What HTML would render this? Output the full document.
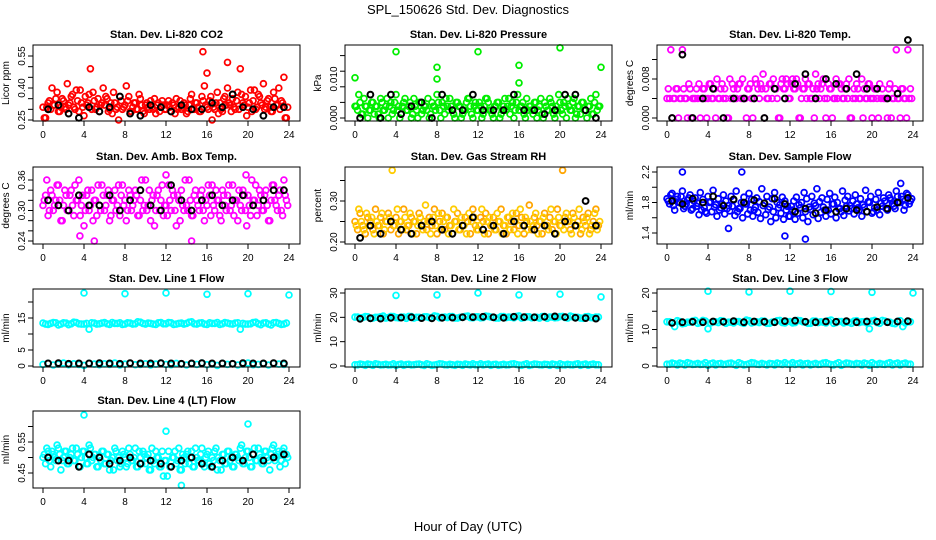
<!DOCTYPE html>
<html><head><meta charset="utf-8"><style>
body{margin:0;background:#fff}
svg{display:block;font-family:"Liberation Sans",sans-serif}
</style></head><body>
<svg id="c" width="936" height="540" viewBox="0 0 936 540">
<text x="468" y="14" text-anchor="middle" font-size="13">SPL_150626  Std. Dev. Diagnostics</text>
<text x="468" y="531" text-anchor="middle" font-size="13">Hour of Day (UTC)</text>
</svg>
<script>
const hoursTick=[0,4,8,12,16,20,24];
const outHours=[4,8,12,16,20,24];
const co2=[0.31,0.26,0.33,0.30,0.32,0.35,0.29,0.31,0.34,0.30,0.32,0.36,0.31,0.39,0.29,0.33,0.27,0.32,0.37,0.30,0.34,0.31,0.29,0.33,0.32,0.35,0.30,0.28,0.33,0.31,0.36,0.30,0.32,0.34,0.29,0.31,0.33,0.30,0.35,0.29,0.32,0.31,0.34,0.30,0.28,0.33,0.31,0.32,0.30,0.34,0.29,0.32,0.35,0.31,0.30,0.33,0.28,0.32,0.37,0.30,0.33,0.29,0.36,0.41,0.31,0.34,0.25,0.30,0.38,0.33,0.29,0.36,0.40,0.32,0.35,0.30,0.38,0.49,0.33,0.36,0.31,0.39,0.34,0.30,0.37,0.33,0.42,0.31,0.35,0.29,0.38,0.32,0.40,0.34,0.31,0.26];
const co2Out=[0.57,0.47,0.52,0.45];
const co2OutHours=[15.6,16,18,23.5];
const co2Black=[0.30,0.32,0.28,0.26,0.31,0.29,0.31,0.36,0.28,0.27,0.32,0.31,0.29,0.32,0.30,0.30,0.33,0.31,0.37,0.31,0.30,0.27,0.31,0.31];
const pres=[0.003,0.002,0.004,0.001,0.003,0.000,0.002,0.004,0.003,0.001,0.005,0.002,0.003,0.000,0.004,0.002,0.006,0.003,0.001,0.004,0.002,0.003,0.000,0.005,0.002,0.004,0.001,0.003,0.002,0.000,0.004,0.003,0.006,0.002,0.004,0.001,0.003,0.005,0.002,0.000,0.004,0.003,0.001,0.002,0.005,0.003,0.000,0.004,0.002,0.003,0.001,0.005,0.004,0.002,0.000,0.003,0.004,0.001,0.003,0.002,0.005,0.003,0.000,0.004,0.002,0.003,0.001,0.005,0.003,0.002,0.004,0.000,0.003,0.001,0.004,0.002,0.005,0.003,0.000,0.002,0.004,0.001,0.003,0.005,0.002,0.004,0.000,0.003,0.001,0.004,0.002,0.003,0.005,0.001,0.006,0.003];
const presOut=[0.0103,0.017,0.013,0.010,0.017,0.0135,0.009,0.018,0.013];
const presOutHours=[0,4,8,8,12,16,16,20,24];
const presBlack=[0.000,0.006,0.000,0.006,0.001,0.003,0.004,0.000,0.006,0.002,0.002,0.006,0.002,0.002,0.002,0.006,0.002,0.002,0.001,0.002,0.006,0.006,0.002,0.000];
const temp=[0.004,0.004,0.000,0.004,0.006,0.004,0.014,0.004,0.000,0.006,0.004,0.004,0.004,0.000,0.006,0.004,0.004,0.007,0.004,0.000,0.004,0.006,0.004,0.004,0.000,0.004,0.006,0.004,0.007,0.004,0.004,0.000,0.006,0.004,0.004,0.007,0.004,0.006,0.000,0.004,0.007,0.004,0.006,0.004,0.000,0.008,0.006,0.007,0.004,0.008,0.006,0.007,0.000,0.006,0.008,0.007,0.004,0.006,0.009,0.007,0.006,0.008,0.000,0.007,0.006,0.004,0.008,0.007,0.006,0.004,0.007,0.008,0.000,0.006,0.007,0.004,0.008,0.006,0.004,0.007,0.000,0.006,0.004,0.007,0.006,0.004,0.000,0.007,0.004,0.006,0.004,0.000,0.006,0.004,0.014,0.006];
const tempBlack=[0.000,0.013,0.000,0.004,0.006,0.000,0.004,0.004,0.004,0.000,0.006,0.004,0.007,0.009,0.004,0.008,0.007,0.006,0.009,0.006,0.006,0.004,0.005,0.016];
const amb=[0.31,0.33,0.29,0.34,0.30,0.32,0.35,0.28,0.31,0.33,0.30,0.34,0.29,0.32,0.36,0.31,0.27,0.33,0.30,0.34,0.32,0.29,0.31,0.35,0.30,0.33,0.28,0.32,0.34,0.31,0.29,0.35,0.32,0.30,0.33,0.31,0.34,0.29,0.32,0.30,0.36,0.31,0.28,0.33,0.30,0.34,0.32,0.29,0.31,0.35,0.30,0.33,0.27,0.32,0.34,0.30,0.31,0.36,0.29,0.33,0.32,0.30,0.34,0.28,0.31,0.33,0.35,0.30,0.32,0.29,0.34,0.31,0.33,0.30,0.35,0.32,0.28,0.31,0.34,0.30,0.33,0.29,0.32,0.35,0.31,0.33,0.30,0.34,0.28,0.32,0.35,0.31,0.33,0.30,0.36,0.32];
const ambOut=[0.25,0.24,0.37,0.24,0.37];
const ambOutHours=[3.6,5,12,14.5,19.8];
const ambBlack=[0.32,0.31,0.30,0.33,0.31,0.31,0.33,0.30,0.32,0.34,0.31,0.30,0.35,0.32,0.30,0.32,0.33,0.31,0.32,0.33,0.31,0.32,0.34,0.34];
const rh=[0.25,0.23,0.27,0.24,0.22,0.26,0.25,0.23,0.28,0.24,0.26,0.22,0.25,0.27,0.23,0.24,0.26,0.22,0.25,0.28,0.23,0.24,0.26,0.25,0.22,0.27,0.24,0.25,0.23,0.26,0.24,0.28,0.22,0.25,0.27,0.23,0.26,0.24,0.22,0.25,0.27,0.23,0.24,0.26,0.25,0.22,0.28,0.24,0.23,0.26,0.25,0.27,0.22,0.24,0.26,0.23,0.25,0.28,0.24,0.22,0.26,0.25,0.23,0.27,0.24,0.26,0.22,0.25,0.29,0.23,0.26,0.24,0.25,0.22,0.27,0.24,0.26,0.23,0.25,0.28,0.24,0.375,0.26,0.25,0.23,0.27,0.24,0.25,0.22,0.26,0.24,0.27,0.23,0.25,0.28,0.24];
const rhBlack=[0.21,0.24,0.22,0.25,0.23,0.22,0.24,0.25,0.23,0.22,0.24,0.26,0.23,0.24,0.22,0.25,0.24,0.23,0.24,0.22,0.25,0.24,0.30,0.24];
const flow=[1.85,1.78,1.92,1.70,1.88,1.80,1.95,1.75,1.83,1.90,1.72,1.86,1.79,1.93,1.84,1.68,1.88,1.81,1.96,1.77,1.85,1.73,1.90,1.82,1.76,1.88,1.83,1.95,1.72,1.80,1.87,1.78,1.92,1.84,1.70,1.86,1.81,1.98,1.79,1.88,1.74,1.85,1.93,1.80,1.77,1.87,1.82,1.75,1.62,1.70,1.58,1.66,1.73,1.60,1.68,1.55,1.71,1.64,1.76,1.59,1.67,1.74,1.62,1.70,1.65,1.78,1.60,1.72,1.68,1.63,1.75,1.69,1.72,1.65,1.78,1.70,1.62,1.74,1.68,1.80,1.66,1.73,1.70,1.64,1.75,1.82,1.70,1.86,1.78,1.72,1.88,1.80,1.84,1.76,1.90,1.82];
const flowOut=[2.2,2.2,1.46,1.36,1.32,2.05];
const flowOutHours=[1.5,7.3,6,11.5,13.5,22.8];
const flowBlack=[1.82,1.78,1.85,1.80,1.88,1.76,1.84,1.80,1.83,1.79,1.85,1.78,1.68,1.72,1.66,1.70,1.68,1.72,1.70,1.68,1.74,1.72,1.80,1.86];
const l1Hi=[13.4,13.0,13.6,12.8,13.5,12.9,13.7,13.2,13.1,11.5,13.4,13.2,13.6,13.0,13.3,13.5,13.1,13.4,13.2,13.7,13.1,13.3,13.0,13.6,13.2,13.5,13.1,13.4,13.3,13.8,13.1,13.5,13.0,13.3,13.6,13.2,13.4,13.1,13.5,13.3,13.1,13.6,13.2,13.4,13.1,13.5,13.3,13.1];
const l1Black=[0.8,0.9,0.7,0.8,0.8,0.9,0.8,0.7,0.9,0.8,0.8,0.9,0.8,0.7,0.8,0.9,0.8,0.8,0.7,0.9,0.8,0.8,0.9,0.8];
const l1Out=[22.8,22.6,22.8,22.4,22.6,22.2];
const l2Hi=[20.1,19.8,20.3,19.6,20.0,20.2,19.7,20.4,19.9,20.1,19.6,20.3,20.0,19.8,20.2,19.7,20.4,20.0,19.9,20.3,19.7,20.1,20.5,19.8,20.2,19.9,20.4,20.0,19.7,20.3,20.1,19.8,20.6,19.9,20.2,20.0,19.7,20.4,20.1,19.8,20.3,19.9,20.5,20.0,19.7,20.2,19.9,20.1];
const lowLine=[0.5,0.8,0.3,0.6,0.9,0.4,0.7,0.5,0.2,0.8,0.6,0.4,0.7,0.5,0.9,0.3,0.6,0.8,0.4,0.5,0.7,0.3,0.6,0.9,0.5,0.4,0.8,0.6,0.3,0.7,0.5,0.9,0.4,0.6,0.2,0.8,0.5,0.7,0.3,0.6,0.9,0.4,0.5,0.7,0.3,0.8,0.6,0.5];
const l2Black=[19.4,19.6,19.5,19.8,19.9,20.0,19.7,19.6,19.8,19.9,20.0,20.1,20.2,20.0,19.8,20.2,20.1,20.0,20.2,20.4,20.1,19.8,19.7,19.5];
const l2Out=[29.0,29.2,30.0,29.2,29.5,28.4];
const l3Hi=[12.1,11.8,12.4,11.6,12.0,12.3,11.7,12.5,10.2,12.1,11.9,12.3,12.0,11.8,12.2,11.7,12.4,12.0,11.9,12.3,11.7,12.1,12.5,11.8,12.2,11.9,12.4,12.0,11.7,12.3,12.1,11.8,12.6,11.9,12.2,12.0,11.7,12.4,12.1,11.8,12.3,11.9,12.5,12.0,11.7,12.2,10.8,12.1];
const l3Black=[11.8,12.0,12.1,12.0,12.2,12.1,12.3,12.0,12.2,12.1,12.0,12.3,12.4,12.1,12.0,12.2,12.1,12.3,12.0,12.2,12.1,12.0,12.2,12.3];
const l3Out=[20.5,20.3,20.5,20.4,20.2,20.0];
const l4=[0.50,0.48,0.52,0.47,0.51,0.49,0.53,0.46,0.50,0.52,0.48,0.51,0.49,0.53,0.47,0.50,0.52,0.48,0.54,0.49,0.51,0.47,0.50,0.52,0.48,0.51,0.46,0.50,0.53,0.49,0.47,0.52,0.50,0.48,0.51,0.49,0.53,0.47,0.50,0.52,0.48,0.51,0.46,0.49,0.52,0.50,0.47,0.44,0.49,0.52,0.47,0.50,0.48,0.53,0.46,0.50,0.51,0.48,0.52,0.47,0.50,0.49,0.53,0.47,0.51,0.48,0.50,0.52,0.46,0.49,0.51,0.48,0.52,0.49,0.47,0.51,0.50,0.53,0.48,0.50,0.52,0.47,0.51,0.49,0.53,0.50,0.48,0.52,0.49,0.51,0.54,0.50,0.52,0.49,0.53,0.51];
const l4Black=[0.50,0.49,0.49,0.47,0.51,0.50,0.48,0.49,0.50,0.48,0.49,0.48,0.47,0.49,0.50,0.48,0.47,0.49,0.50,0.49,0.51,0.49,0.50,0.51];
const l4OutHours=[4,12,13.5,20];
const l4Out=[0.637,0.585,0.41,0.608];

const NS='http://www.w3.org/2000/svg';
const svg=document.getElementById('c');
function mk(tag,attrs,parent){const e=document.createElementNS(NS,tag);for(const k in attrs)e.setAttribute(k,attrs[k]);(parent||svg).appendChild(e);return e;}
const rev=a=>a.slice().reverse();
const cols=[{bx:33,bw:267,x0:43,x24:289},{bx:345,bw:267,x0:355,x24:601},{bx:657,bw:266,x0:667,x24:913}];
const rows=[{top:45,bot:121},{top:167,bot:244},{top:289,bot:367},{top:411,bot:488}];
// series: [values, mode(step number | 'b' | hours array), color, offset]
const panels=[
 {r:0,c:0,title:'Stan. Dev. Li-820 CO2',yl:'Licor ppm',v1:0.25,p1:120,v2:0.55,p2:56,ticks:[0.25,0.30,0.35,0.40,0.45,0.50,0.55],labs:[0.25,0.40,0.55],dec:2,series:[[co2,0.25,'#ff0000',0],[rev(co2),0.25,'#ff0000',0.125],[co2Out,co2OutHours,'#ff0000',0],[co2Black,'b','#000',0]]},
 {r:0,c:1,title:'Stan. Dev. Li-820 Pressure',yl:'kPa',v1:0,p1:118,v2:0.010,p2:79,ticks:[0,0.004,0.008,0.012,0.016],labs:[0,0.010],dec:3,series:[[pres,0.25,'#00ee00',0],[rev(pres),0.25,'#00ee00',0.125],[presOut,presOutHours,'#00ee00',0],[presBlack,'b','#000',0]]},
 {r:0,c:2,title:'Stan. Dev. Li-820 Temp.',yl:'degrees C',v1:0,p1:118,v2:0.008,p2:79,ticks:[0,0.004,0.008,0.012,0.016],labs:[0,0.008],dec:3,series:[[temp,0.25,'#ff00ff',0],[rev(temp),0.25,'#ff00ff',0.125],[tempBlack,'b','#000',0]]},
 {r:1,c:0,title:'Stan. Dev. Amb. Box Temp.',yl:'degrees C',v1:0.24,p1:241,v2:0.36,p2:180,ticks:[0.24,0.26,0.28,0.30,0.32,0.34,0.36],labs:[0.24,0.30,0.36],dec:2,series:[[amb,0.25,'#ff00ff',0],[rev(amb),0.25,'#ff00ff',0.125],[ambOut,ambOutHours,'#ff00ff',0],[ambBlack,'b','#000',0]]},
 {r:1,c:1,title:'Stan. Dev. Gas Stream RH',yl:'percent',v1:0.20,p1:242,v2:0.30,p2:201,ticks:[0.20,0.25,0.30,0.35],labs:[0.20,0.30],dec:2,series:[[rh,0.25,'#ffa500',0],[rev(rh),0.25,'#ffcc00',0.125],[rhBlack,'b','#000',0]]},
 {r:1,c:2,title:'Stan. Dev. Sample Flow',yl:'ml/min',v1:1.4,p1:233,v2:2.2,p2:172,ticks:[1.4,1.6,1.8,2.0,2.2],labs:[1.4,1.8,2.2],dec:1,series:[[flow,0.25,'#0000ff',0],[rev(flow),0.25,'#0000ff',0.125],[flowOut,flowOutHours,'#0000ff',0],[flowBlack,'b','#000',0]]},
 {r:2,c:0,title:'Stan. Dev. Line 1 Flow',yl:'ml/min',v1:0,p1:366,v2:15,p2:318,ticks:[0,5,10,15,20],labs:[0,5,15],dec:0,series:[[l1Hi,0.5,'#00ffff',0],[rev(l1Hi),0.5,'#00ffff',0.25],[lowLine,0.5,'#00ffff',0],[l1Out,outHours,'#00ffff',0],[l1Black,'b','#000',0]]},
 {r:2,c:1,title:'Stan. Dev. Line 2 Flow',yl:'ml/min',v1:0,p1:366,v2:30,p2:293,ticks:[0,10,20,30],labs:[0,10,20,30],dec:0,series:[[l2Hi,0.5,'#00ffff',0],[rev(l2Hi),0.5,'#00ffff',0.25],[lowLine,0.5,'#00ffff',0],[rev(lowLine),0.5,'#00ffff',0.25],[l2Out,outHours,'#00ffff',0],[l2Black,'b','#000',0]]},
 {r:2,c:2,title:'Stan. Dev. Line 3 Flow',yl:'ml/min',v1:0,p1:366,v2:20,p2:293,ticks:[0,5,10,15,20],labs:[0,10,20],dec:0,series:[[l3Hi,0.5,'#00ffff',0],[rev(l3Hi),0.5,'#00ffff',0.25],[lowLine,0.5,'#00ffff',0],[rev(lowLine),0.5,'#00ffff',0.25],[l3Out,outHours,'#00ffff',0],[l3Black,'b','#000',0]]},
 {r:3,c:0,title:'Stan. Dev. Line 4 (LT) Flow',yl:'ml/min',v1:0.45,p1:473,v2:0.55,p2:442,ticks:[0.45,0.50,0.55,0.60],labs:[0.45,0.55],dec:2,series:[[l4,0.25,'#00ffff',0],[rev(l4),0.25,'#00ffff',0.125],[l4Out,l4OutHours,'#00ffff',0],[l4Black,'b','#000',0]]}
];
panels.forEach((p,pi)=>{
 const C=cols[p.c],R=rows[p.r];
 const g=mk('g',{});
 
 
 const xS=h=>C.x0+(C.x24-C.x0)*h/24;
 const yS=v=>p.p1+(p.p2-p.p1)*(v-p.v1)/(p.v2-p.v1);
 const t=mk('text',{x:C.bx+C.bw/2,y:R.top-7,'text-anchor':'middle','font-size':11,'font-weight':'bold'},g);t.textContent=p.title;
 
 
 const cx=C.bx-24,cy=(R.top+R.bot)/2;
 const yl=mk('text',{x:cx,y:cy,'text-anchor':'middle','font-size':10,transform:`rotate(-90 ${cx} ${cy})`},g);yl.textContent=p.yl;
 
 
 p.series.forEach(s=>{
  const vals=s[0],mode=s[1],col=s[2],off=s[3];
  const isBlack=mode==='b';
  vals.forEach((v,i)=>{
   let h;
   if(isBlack)h=i+0.5;else if(Array.isArray(mode))h=mode[i];else h=i*mode+off;
   if(h>24)h=24;
   const c=mk('circle',{cx:xS(h).toFixed(1),cy:yS(v).toFixed(1),r:2.9,fill:'none',stroke:col,'stroke-width':isBlack?2:1.8},g);
   
   
  });
 });
 const box=mk('rect',{x:C.bx,y:R.top,width:C.bw,height:R.bot-R.top,fill:'none',stroke:'#000','stroke-width':1},g);
 
 
 hoursTick.forEach(h=>{
  const x=xS(h);
  mk('line',{x1:x,x2:x,y1:R.bot,y2:R.bot+5,stroke:'#000'},g);
  const tl=mk('text',{x:x,y:R.bot+17,'text-anchor':'middle','font-size':10},g);tl.textContent=h;
  
  
 });
 p.ticks.forEach(v=>{
  const y=yS(v);
  if(y<R.top-1)return;
  mk('line',{x1:C.bx,x2:C.bx-5,y1:y,y2:y,stroke:'#000'},g);
 });
 p.labs.forEach(v=>{
  const y=yS(v),x=C.bx-8;
  const tl=mk('text',{x:x,y:y,'text-anchor':'middle','font-size':10,transform:`rotate(-90 ${x} ${y})`},g);tl.textContent=v.toFixed(p.dec);
  
  
 });
});
</script>
</body></html>
